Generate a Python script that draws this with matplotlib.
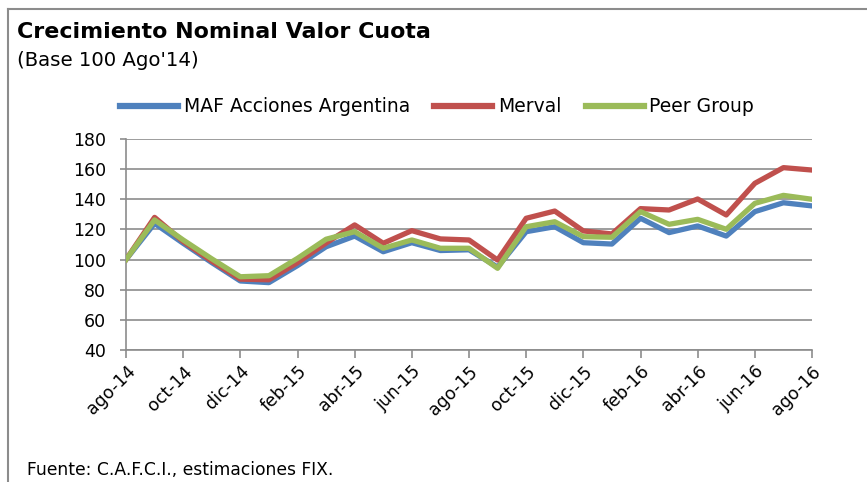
import numpy as np
import matplotlib.pyplot as plt
from matplotlib.lines import Line2D

# monthly data, ago-14 .. ago-16 (base 100)
months = ["ago-14", "sep-14", "oct-14", "nov-14", "dic-14", "ene-15", "feb-15",
          "mar-15", "abr-15", "may-15", "jun-15", "jul-15", "ago-15", "sep-15",
          "oct-15", "nov-15", "dic-15", "ene-16", "feb-16", "mar-16", "abr-16",
          "may-16", "jun-16", "jul-16", "ago-16"]
maf = [100, 124, 110.8, 98, 85.8, 84.7, 96, 108.5, 115.6, 105.2, 111.2, 106,
       106.5, 95, 118.5, 121.8, 111.2, 110.3, 127.4, 117.9, 122.3, 115.6,
       131.8, 137.7, 135.6]
merval = [100, 128, 112, 99, 87, 86.6, 98, 111, 123, 110.8, 119.2, 113.7,
          113, 99.7, 127.4, 132.2, 119, 117, 133.8, 132.9, 140.2, 129.6,
          150.6, 161, 159.4]
peer = [100, 126.3, 113, 100.5, 88.6, 89.3, 100.8, 113.5, 118.5, 107.5, 113,
        107.5, 107.5, 94.2, 121.8, 125.1, 115.2, 114.8, 131.8, 123.4, 126.7,
        120.1, 137.3, 142.6, 140]

blue = "#4F81BD"
red = "#C0504D"
green = "#9BBB59"
grid_col = "#8C8C8C"

plt.rcParams['font.family'] = ['DejaVu Sans']

fig = plt.figure(figsize=(8.67, 4.82), dpi=100)
ax = fig.add_axes([126 / 867, 1 - 350 / 482, (812 - 126) / 867, (350 - 139) / 482])

x = np.arange(len(months))
ax.plot(x, maf, color=blue, lw=3.8, label="MAF Acciones Argentina", zorder=3)
ax.plot(x, merval, color=red, lw=3.8, label="Merval", zorder=4)
ax.plot(x, peer, color=green, lw=3.8, label="Peer Group", zorder=5)

ax.set_xlim(0, len(months) - 1)
ax.set_ylim(40, 180)
ax.set_yticks(np.arange(40, 181, 20))
ax.set_xticks(x[::2])
ax.set_xticklabels(months[::2], rotation=45, ha='right', rotation_mode='anchor')
ax.grid(axis='y', color=grid_col, lw=1.2)
ax.set_axisbelow(True)
for s in ['top', 'right']:
    ax.spines[s].set_visible(False)
for s in ['left', 'bottom']:
    ax.spines[s].set_color(grid_col)
    ax.spines[s].set_linewidth(1.2)
ax.tick_params(axis='both', colors=grid_col, labelcolor='black', labelsize=12.5,
               width=1.2)
ax.tick_params(axis='x', length=6, pad=3)
ax.tick_params(axis='y', length=4.3, pad=10)

handles = [Line2D([], [], color=c, lw=4.5) for c in (blue, red, green)]
fig.legend(handles, ["MAF Acciones Argentina", "Merval", "Peer Group"],
           loc='center', bbox_to_anchor=(437 / 867, 1 - 107 / 482), ncol=3,
           frameon=False, fontsize=13.5, handlelength=3.1, handletextpad=0.3,
           columnspacing=1.3)

fig.text(17 / 867, 1 - 32 / 482, "Crecimiento Nominal Valor Cuota",
         fontsize=15.9, fontweight='bold', va='center')
fig.text(17 / 867, 1 - 60 / 482, "(Base 100 Ago'14)", fontsize=14.2, va='center')
fig.text(27 / 867, 1 - 470 / 482, "Fuente: C.A.F.C.I., estimaciones FIX.",
         fontsize=12.3, va='center')

# frame lines of the panel (top and left)
fig.add_artist(Line2D([8 / 867, 1], [1 - 9 / 482] * 2, color="#8C8C8C", lw=1.5))
fig.add_artist(Line2D([8 / 867] * 2, [0, 1 - 9 / 482], color="#8C8C8C", lw=1.5))

fig.savefig("out.png", dpi=100)
